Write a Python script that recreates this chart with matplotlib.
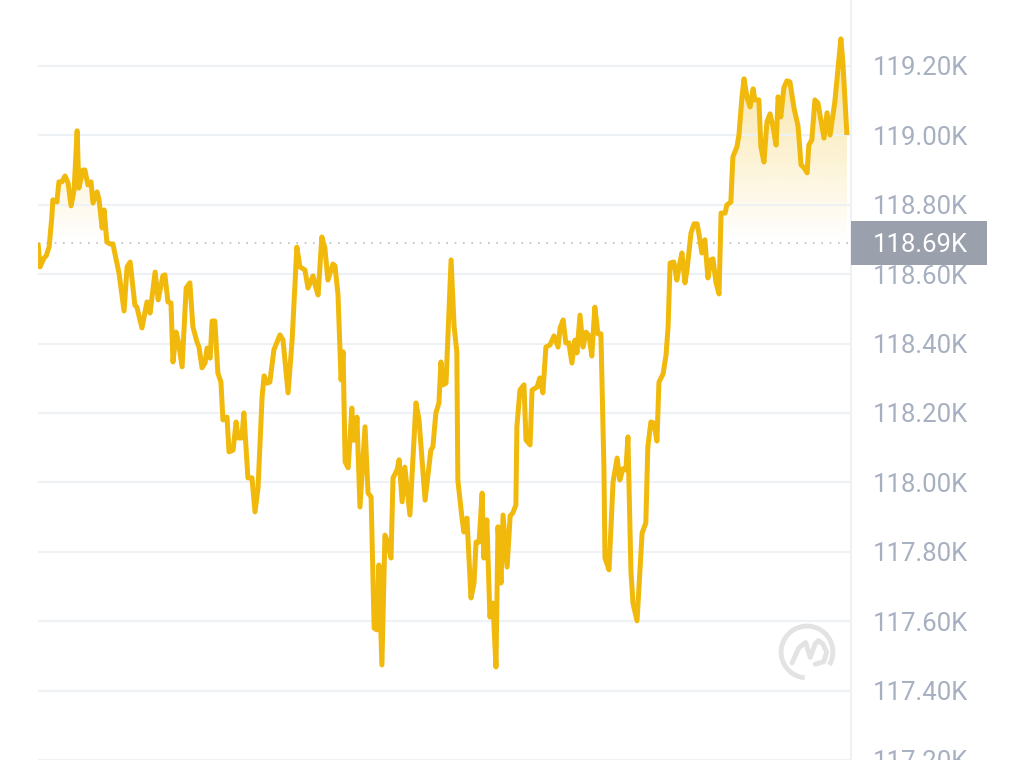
import numpy as np
import matplotlib
matplotlib.use("Agg")
import matplotlib.pyplot as plt
from matplotlib.path import Path
from matplotlib.patches import Arc, Rectangle

# ---------------- data (hours, price in K) ----------------
hours = [0.00, 0.06, 0.18, 0.24, 0.33, 0.41, 0.44, 0.56, 0.62, 0.71,
         0.80, 0.89, 0.98, 1.07, 1.16, 1.21, 1.33, 1.39, 1.48, 1.57,
         1.63, 1.75, 1.81, 1.90, 1.96, 2.04, 2.13, 2.22, 2.34, 2.40,
         2.55, 2.64, 2.73, 2.87, 2.93, 3.08, 3.23, 3.32, 3.47, 3.56,
         3.70, 3.76, 3.85, 3.94, 4.00, 4.09, 4.15, 4.27, 4.39, 4.50,
         4.59, 4.71, 4.77, 4.86, 4.95, 5.01, 5.10, 5.16, 5.24, 5.33,
         5.42, 5.48, 5.60, 5.66, 5.78, 5.87, 5.93, 6.04, 6.10, 6.22,
         6.34, 6.43, 6.52, 6.64, 6.70, 6.79, 6.87, 6.99, 7.17, 7.26,
         7.41, 7.53, 7.67, 7.76, 7.91, 8.00, 8.15, 8.21, 8.30, 8.41,
         8.50, 8.59, 8.74, 8.80, 8.89, 8.98, 9.04, 9.10, 9.19, 9.30,
         9.33, 9.42, 9.45, 9.54, 9.69, 9.78, 9.87, 9.96, 10.04, 10.10,
         10.19, 10.28, 10.34, 10.46, 10.52, 10.64, 10.70, 10.79, 10.87, 11.02,
         11.20, 11.29, 11.47, 11.64, 11.70, 11.79, 11.88, 11.94, 12.00, 12.09,
         12.24, 12.33, 12.41, 12.44, 12.56, 12.62, 12.71, 12.83, 12.92, 12.98,
         13.07, 13.16, 13.21, 13.30, 13.39, 13.48, 13.57, 13.63, 13.72, 13.78,
         13.90, 13.99, 14.07, 14.16, 14.19, 14.28, 14.40, 14.46, 14.58, 14.64,
         14.79, 14.87, 14.96, 15.05, 15.17, 15.29, 15.41, 15.47, 15.56, 15.64,
         15.73, 15.82, 15.91, 15.97, 16.06, 16.15, 16.24, 16.33, 16.41, 16.50,
         16.59, 16.68, 16.77, 16.80, 16.92, 17.04, 17.16, 17.24, 17.33, 17.42,
         17.48, 17.57, 17.63, 17.75, 17.90, 18.01, 18.07, 18.16, 18.25, 18.34,
         18.40, 18.52, 18.61, 18.67, 18.73, 18.84, 18.93, 18.99, 19.08, 19.17,
         19.23, 19.35, 19.44, 19.53, 19.59, 19.67, 19.76, 19.85, 19.94, 20.00,
         20.09, 20.18, 20.24, 20.36, 20.41, 20.53, 20.59, 20.71, 20.77, 20.86,
         20.92, 21.01, 21.10, 21.19, 21.24, 21.36, 21.42, 21.51, 21.60, 21.69,
         21.78, 21.87, 21.93, 22.01, 22.10, 22.19, 22.28, 22.40, 22.52, 22.61,
         22.70, 22.79, 22.84, 22.93, 23.02, 23.11, 23.29, 23.38, 23.47, 23.61,
         23.79, 23.85, 23.97]

price = [118.690, 118.621, 118.647, 118.652, 118.678, 118.765, 118.814, 118.808, 118.866, 118.866,
         118.883, 118.863, 118.797, 118.843, 119.013, 118.848, 118.900, 118.900, 118.857, 118.866,
         118.805, 118.837, 118.814, 118.733, 118.785, 118.693, 118.687, 118.687, 118.632, 118.603,
         118.494, 118.621, 118.635, 118.511, 118.505, 118.445, 118.520, 118.488, 118.606, 118.526,
         118.595, 118.598, 118.520, 118.517, 118.347, 118.433, 118.410, 118.333, 118.560, 118.575,
         118.448, 118.405, 118.390, 118.330, 118.344, 118.387, 118.358, 118.465, 118.465, 118.315,
         118.289, 118.180, 118.188, 118.088, 118.093, 118.174, 118.128, 118.128, 118.200, 118.013,
         118.013, 117.915, 117.984, 118.246, 118.307, 118.286, 118.289, 118.382, 118.425, 118.410,
         118.258, 118.410, 118.678, 118.621, 118.612, 118.560, 118.595, 118.569, 118.540, 118.707,
         118.676, 118.583, 118.629, 118.624, 118.540, 118.295, 118.376, 118.059, 118.042, 118.214,
         118.122, 118.122, 118.188, 117.929, 118.160, 117.969, 117.958, 117.580, 117.575, 117.762,
         117.474, 117.848, 117.834, 117.782, 118.013, 118.036, 118.065, 117.944, 118.044, 117.906,
         118.229, 118.180, 117.949, 118.093, 118.102, 118.200, 118.229, 118.347, 118.281, 118.286,
         118.641, 118.448, 118.376, 118.007, 117.900, 117.857, 117.897, 117.667, 117.710, 117.828,
         117.828, 117.969, 117.782, 117.892, 117.612, 117.652, 117.468, 117.872, 117.710, 117.906,
         117.756, 117.903, 117.912, 117.935, 118.160, 118.266, 118.281, 118.122, 118.108, 118.266,
         118.275, 118.301, 118.258, 118.390, 118.396, 118.422, 118.390, 118.445, 118.468, 118.402,
         118.402, 118.344, 118.410, 118.373, 118.482, 118.390, 118.433, 118.422, 118.364, 118.505,
         118.428, 118.428, 118.036, 117.782, 117.748, 118.001, 118.070, 118.007, 118.039, 118.036,
         118.131, 117.742, 117.652, 117.601, 117.854, 117.883, 118.102, 118.174, 118.171, 118.119,
         118.289, 118.312, 118.367, 118.448, 118.632, 118.635, 118.583, 118.618, 118.661, 118.575,
         118.612, 118.719, 118.745, 118.745, 118.713, 118.661, 118.699, 118.589, 118.641, 118.644,
         118.575, 118.543, 118.776, 118.776, 118.799, 118.808, 118.938, 118.967, 119.001, 119.111,
         119.163, 119.108, 119.082, 119.134, 119.102, 119.102, 118.967, 118.923, 119.039, 119.062,
         119.024, 118.972, 119.111, 119.053, 119.137, 119.157, 119.154, 119.079, 119.027, 118.915,
         118.906, 118.892, 118.972, 118.987, 119.102, 119.093, 118.992, 119.065, 119.001, 119.096,
         119.278, 119.209, 119.001]

base_price = 118.69
tick_vals = [117.2, 117.4, 117.6, 117.8, 118.0, 118.2, 118.4, 118.6, 118.8, 119.0, 119.2]
tick_labels = [f"{v:.2f}K" for v in tick_vals]

LINE = "#f0b90b"
GRID = "#eff2f5"
LABEL = "#a7b0c1"
BOX = "#9aa0ac"
LOGO = "#e3e3e3"

plt.rcParams['font.family'] = ['Roboto', 'DejaVu Sans']

fig = plt.figure(figsize=(10.24, 7.6), dpi=100)
ax = fig.add_axes([38 / 1024, 0, (851 - 38) / 1024, 1])

t = np.array(hours)
p = np.array(price)

# gradient fill above the reference price
fill = ax.fill_between(t, p, base_price, where=p >= base_price, interpolate=True,
                       facecolor='none', edgecolor='none')
clip = Path.make_compound_path(*fill.get_paths())
top = p.max()
grad = np.zeros((200, 1, 4))
grad[..., 0] = 240 / 255
grad[..., 1] = 185 / 255
grad[..., 2] = 11 / 255
grad[:, 0, 3] = np.linspace(0.0, 0.42, 200)
im = ax.imshow(grad, extent=[0, 24.1, base_price, top], origin='lower',
               aspect='auto', interpolation='bilinear', zorder=1)
im.set_clip_path(clip, transform=ax.transData)

ax.axhline(base_price, color="#b9bec8", lw=1.2, ls=(0, (1, 4)), zorder=1.5)
ax.plot(t, p, color=LINE, lw=3.6, solid_joinstyle='round', solid_capstyle='butt', zorder=3)

ax.set_xlim(0, 24.09)
ax.set_ylim(117.2, 119.39)

ax.yaxis.tick_right()
ax.set_yticks(tick_vals)
ax.set_yticklabels(tick_labels)
ax.tick_params(axis='y', length=0, pad=16, labelsize=18.5, labelcolor=LABEL)
ax.set_xticks([])
ax.grid(axis='y', color=GRID, lw=1.5, zorder=0)
for s in ['top', 'left', 'bottom']:
    ax.spines[s].set_visible(False)
ax.spines['right'].set_color(GRID)
ax.spines['right'].set_linewidth(1.5)

# current price tag
tr = ax.get_yaxis_transform()
tag_h = 0.126
ax.add_patch(Rectangle((1.0, base_price - tag_h / 2), 136 / 813, tag_h, transform=tr,
                       facecolor=BOX, edgecolor='none', clip_on=False, zorder=5))
ax.text(1.0 + 22 / 813, base_price, f"{base_price:.2f}K", transform=tr, ha='left',
        va='center_baseline', color='white', fontsize=18.5, zorder=6)

# watermark logo
lax = fig.add_axes([(807 - 30) / 1024, 1 - (652 + 30) / 760, 60 / 1024, 60 / 760])
lax.set_xlim(-1.1, 1.1)
lax.set_ylim(-1.1, 1.1)
lax.axis('off')
lax.add_patch(Arc((0, 0), 1.9, 1.9, theta1=-30, theta2=265, color=LOGO, lw=3.5))
wx = [-0.55, -0.3, -0.05, 0.12, 0.3, 0.42, 0.58, 0.72, 0.62, 0.3]
wy = [-0.4, 0.15, 0.35, -0.2, 0.3, 0.42, 0.3, 0.0, -0.35, -0.45]
lax.plot(wx, wy, color=LOGO, lw=3.5, solid_joinstyle='round', solid_capstyle='round')

fig.savefig("out.png", dpi=100, facecolor='white')
